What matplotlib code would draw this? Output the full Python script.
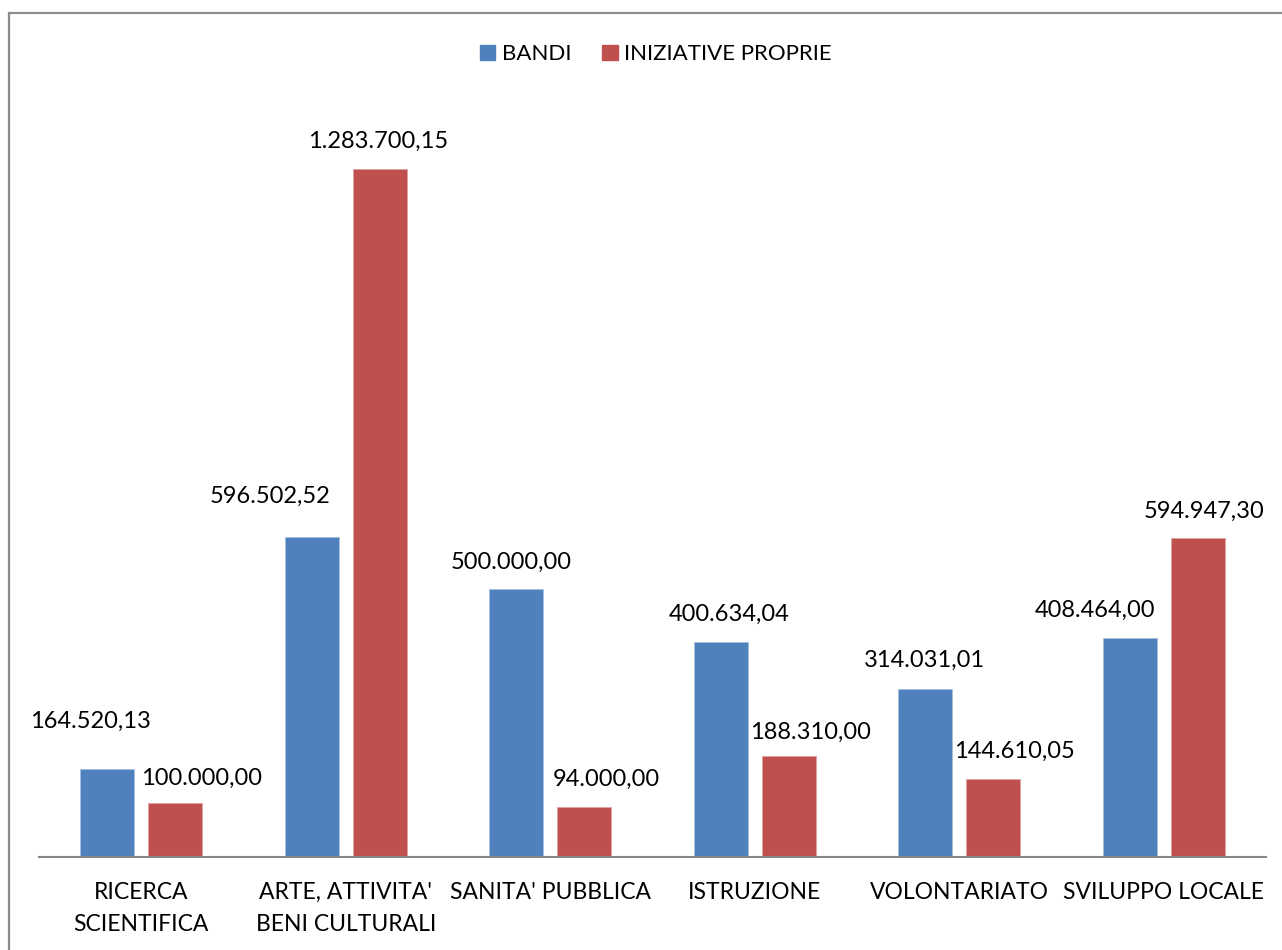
import matplotlib
matplotlib.use('Agg')
import matplotlib.pyplot as plt
import numpy as np
from matplotlib.patches import Patch
from matplotlib.lines import Line2D

plt.rcParams['font.family'] = ['Lato', 'DejaVu Sans']

# data
categories = ["RICERCA\nSCIENTIFICA", "ARTE, ATTIVITA'\nBENI CULTURALI", "SANITA' PUBBLICA",
              "ISTRUZIONE", "VOLONTARIATO", "SVILUPPO LOCALE"]
bandi = [164520.13, 596502.52, 500000.00, 400634.04, 314031.01, 408464.00]
iniziative = [100000.00, 1283700.15, 94000.00, 188310.00, 144610.05, 594947.30]

# label offsets in pixels (dx, dy) from top centre of each bar, labels were moved by hand
off_bandi = [(-17, 47), (-42, 41), (-5, 27), (8, 28), (-1, 28), (-35, 28)]
off_iniz = [(26, 25), (-2, 28), (22, 27), (22, 24), (21, 28), (6, 27)]

blue = '#4F81BD'
red = '#C0504D'

def it_fmt(v):
    s = '{:,.2f}'.format(v)
    return s.replace(',', 'X').replace('.', ',').replace('X', '.')

fig = plt.figure(figsize=(12.82, 9.5), dpi=100)
ax = fig.add_axes([39/1282, 93/950, 1227/1282, 750.3/950])

x = np.arange(len(categories))
w = 54/204.5
d = 34/204.5
b1 = ax.bar(x - d, bandi, w, color=blue, edgecolor='#a7c0de', linewidth=0.6, label='BANDI')
b2 = ax.bar(x + d, iniziative, w, color=red, edgecolor='#dca3a1', linewidth=0.6, label='INIZIATIVE PROPRIE')

for bars, vals, offs in [(b1, bandi, off_bandi), (b2, iniziative, off_iniz)]:
    for r, v, (dx, dy) in zip(bars, vals, offs):
        ax.annotate(it_fmt(v), (r.get_x() + r.get_width()/2, r.get_height()),
                    xytext=(dx, dy), textcoords='offset pixels',
                    ha='center', va='center', fontsize=17, color='black')

ax.set_xlim(-0.5, len(categories) - 0.5)
ax.set_ylim(0, 1400000)
ax.set_yticks([])
ax.set_xticks(x)
ax.set_xticklabels(categories, fontsize=16.5, linespacing=1.65)
ax.tick_params(axis='x', length=0, pad=18)
for s in ['top', 'right', 'left']:
    ax.spines[s].set_visible(False)
ax.spines['bottom'].set_color('#868686')
ax.spines['bottom'].set_linewidth(1.5)

handles = [Patch(color=blue, label='BANDI'), Patch(color=red, label='INIZIATIVE PROPRIE')]
fig.legend(handles=handles, loc='center', bbox_to_anchor=(656/1282, 1 - 54/950), ncol=2,
           frameon=False, fontsize=16, handlelength=0.68, handleheight=0.68,
           handletextpad=0.3, columnspacing=1.4)

# chart border (left and top visible)
fig.add_artist(Line2D([9/1282, 9/1282], [0, 1 - 13/950], transform=fig.transFigure,
                      color='#8c8c8c', linewidth=1.6))
fig.add_artist(Line2D([9/1282, 1], [1 - 13/950, 1 - 13/950], transform=fig.transFigure,
                      color='#8c8c8c', linewidth=1.6))

fig.savefig('out.png', dpi=100)
